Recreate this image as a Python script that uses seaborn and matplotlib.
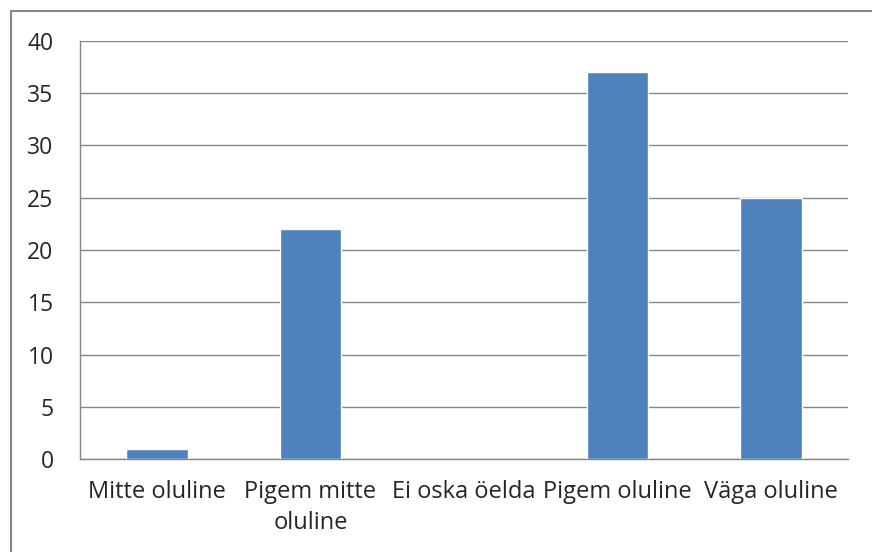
import matplotlib
matplotlib.use("Agg")
import matplotlib.pyplot as plt
import seaborn as sns
import pandas as pd
from matplotlib.patches import Rectangle

# categories and counts
categories = ["Mitte oluline", "Pigem mitte\noluline", "Ei oska öelda", "Pigem oluline", "Väga oluline"]
counts = [1, 22, 0, 37, 25]
y_ticks = [0, 5, 10, 15, 20, 25, 30, 35, 40]

df = pd.DataFrame({"category": categories, "count": counts})

sns.set_style("white")
plt.rcParams["font.family"] = ["Open Sans", "DejaVu Sans"]

grey = "#868686"
fig = plt.figure(figsize=(8.72, 5.52), dpi=100)
ax = fig.add_axes([80 / 872, 1 - 459 / 552, 768 / 872, 418 / 552])

sns.barplot(data=df, x="category", y="count", color="#4F81BD", saturation=1,
            width=0.4, ax=ax, zorder=3)

ax.set_ylim(0, 40)
ax.set_xlim(-0.5, len(categories) - 0.5)
ax.set_yticks(y_ticks)
ax.set_yticklabels([str(v) for v in y_ticks], fontsize=16.5)
ax.set_xlabel("")
ax.set_ylabel("")

# category labels centred, ticks on the boundaries
ax.set_xticks(range(len(categories)))
ax.set_xticklabels(categories, fontsize=17, linespacing=1.4)
ax.tick_params(axis="x", length=0, pad=15)
ax.set_xticks([i - 0.5 for i in range(len(categories) + 1)], minor=True)
ax.tick_params(axis="x", which="minor", length=5, width=1, color=grey)
ax.tick_params(axis="y", length=6, width=1, color=grey, pad=13)

ax.grid(axis="y", color=grey, linewidth=1, zorder=0)
for side in ["top", "right"]:
    ax.spines[side].set_visible(False)
for side in ["left", "bottom"]:
    ax.spines[side].set_color(grey)
    ax.spines[side].set_linewidth(1)

# outer chart frame (cropped at right/bottom)
fig.add_artist(Rectangle((11 / 872, -0.1), 1.2, 1 - 11 / 552 + 0.1, transform=fig.transFigure,
                         fill=False, edgecolor=grey, linewidth=1.5))

fig.savefig("out.png", dpi=100)
